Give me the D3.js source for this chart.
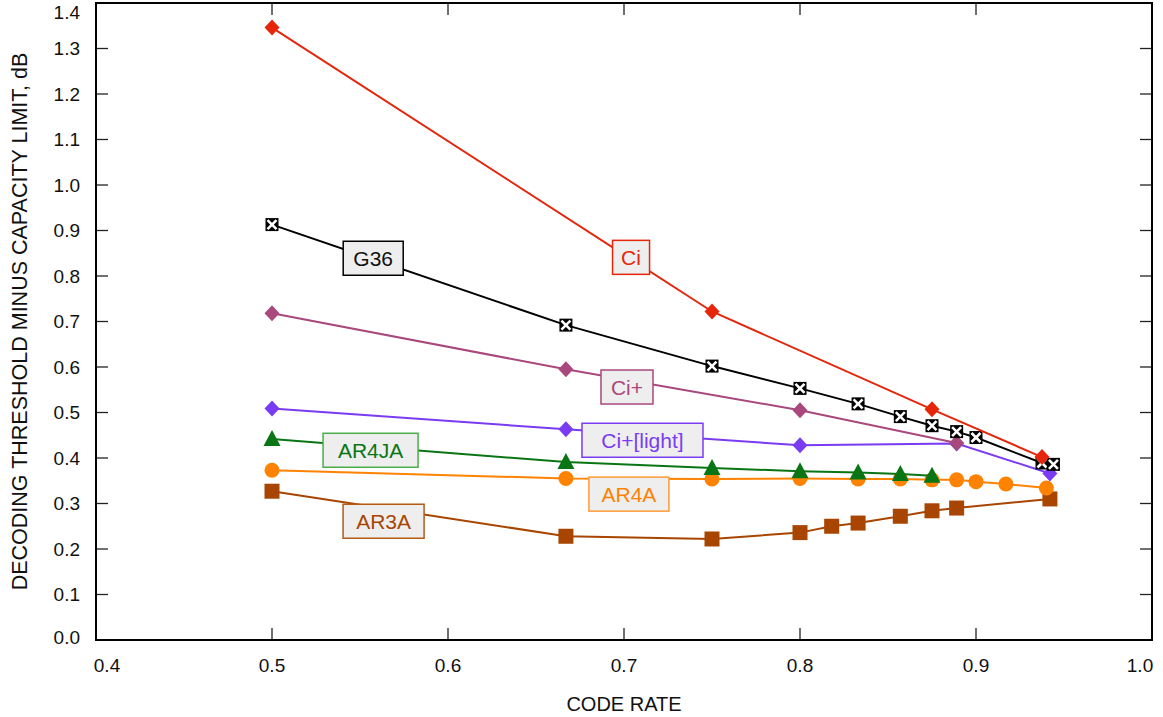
<!DOCTYPE html>
<html>
<head>
<meta charset="utf-8">
<script src="https://cdn.jsdelivr.net/npm/d3@7"></script>
<style>
  body { margin: 0; background: #fff; }
  text { font-family: "Liberation Sans", Arial, Helvetica, sans-serif; }
</style>
</head>
<body>
<div id="chart"></div>
<script>
// code rates and thresholds (dB above capacity)
const ciRate = [0.5, 0.75, 0.875, 0.9375];
const ciGap = [1.346, 0.722, 0.507, 0.402];

const g36Rate = [0.5, 0.667, 0.75, 0.8, 0.833, 0.857, 0.875, 0.889, 0.9, 0.9375, 0.944];
const g36Gap = [0.913, 0.692, 0.602, 0.553, 0.519, 0.491, 0.471, 0.458, 0.445, 0.389, 0.386];

const ciPlusRate = [0.5, 0.667, 0.8, 0.889];
const ciPlusGap = [0.718, 0.595, 0.505, 0.433];

const ciLightRate = [0.5, 0.667, 0.8, 0.889, 0.942];
const ciLightGap = [0.509, 0.463, 0.428, 0.432, 0.366];

const ar4jaRate = [0.5, 0.667, 0.75, 0.8, 0.833, 0.857, 0.875];
const ar4jaGap = [0.442, 0.391, 0.378, 0.371, 0.368, 0.365, 0.361];

const ar4aRate = [0.5, 0.667, 0.75, 0.8, 0.833, 0.857, 0.875, 0.889, 0.9, 0.917, 0.94];
const ar4aGap = [0.373, 0.355, 0.354, 0.355, 0.354, 0.354, 0.352, 0.352, 0.348, 0.343, 0.334];

const ar3aRate = [0.5, 0.667, 0.75, 0.8, 0.818, 0.833, 0.857, 0.875, 0.889, 0.942];
const ar3aGap = [0.327, 0.228, 0.222, 0.236, 0.250, 0.257, 0.272, 0.284, 0.290, 0.310];

const xTicks = [0.4, 0.5, 0.6, 0.7, 0.8, 0.9, 1.0];
const yTicks = d3.range(0, 15).map(i => i / 10);

const width = 1163, height = 717;
const margin = { left: 96, right: 11, top: 3, bottom: 77 };

const x = d3.scaleLinear().domain([0.4, 1.0]).range([margin.left, width - margin.right]);
const y = d3.scaleLinear().domain([0, 1.4]).range([height - margin.bottom, margin.top]);

// label box positions are in data units, box widths in px
const series = [
  { name: 'Ci', rate: ciRate, gap: ciGap, color: '#e5260b', border: '#e5260b', marker: 'diamond', lx: 0.704, ly: 0.841, bw: 37 },
  { name: 'G36', rate: g36Rate, gap: g36Gap, color: '#000000', border: '#000000', marker: 'xsquare', lx: 0.5575, ly: 0.839, bw: 60 },
  { name: 'Ci+', rate: ciPlusRate, gap: ciPlusGap, color: '#a8487c', border: '#a8487c', marker: 'diamond', lx: 0.7017, ly: 0.556, bw: 52 },
  { name: 'Ci+[light]', rate: ciLightRate, gap: ciLightGap, color: '#7a3cf2', border: '#7a3cf2', marker: 'diamond', lx: 0.7105, ly: 0.439, bw: 121 },
  { name: 'AR4JA', rate: ar4jaRate, gap: ar4jaGap, color: '#0a7514', border: '#4aad4a', marker: 'triangle', lx: 0.556, ly: 0.417, bw: 95 },
  { name: 'AR4A', rate: ar4aRate, gap: ar4aGap, color: '#ff8200', border: '#ff9a3a', marker: 'circle', lx: 0.7028, ly: 0.3206, bw: 80 },
  { name: 'AR3A', rate: ar3aRate, gap: ar3aGap, color: '#a84500', border: '#b45a14', marker: 'square', lx: 0.5634, ly: 0.261, bw: 81 }
];

const svg = d3.select('#chart').append('svg')
  .attr('width', width)
  .attr('height', height);

// ticks (inside, mirrored on all four sides)
const tickLen = 12;
const axes = svg.append('g').attr('stroke', '#222').attr('stroke-width', 1.3);
xTicks.slice(1, -1).forEach(t => {
  axes.append('line').attr('x1', x(t)).attr('x2', x(t)).attr('y1', y(0)).attr('y2', y(0) - tickLen);
  axes.append('line').attr('x1', x(t)).attr('x2', x(t)).attr('y1', y(1.4)).attr('y2', y(1.4) + tickLen);
});
yTicks.slice(1, -1).forEach(t => {
  axes.append('line').attr('x1', x(0.4)).attr('x2', x(0.4) + tickLen).attr('y1', y(t)).attr('y2', y(t));
  axes.append('line').attr('x1', x(1.0)).attr('x2', x(1.0) - tickLen).attr('y1', y(t)).attr('y2', y(t));
});

svg.append('rect')
  .attr('x', x(0.4)).attr('y', y(1.4))
  .attr('width', x(1.0) - x(0.4)).attr('height', y(0) - y(1.4))
  .attr('fill', 'none').attr('stroke', '#000').attr('stroke-width', 2);

// tick labels
svg.append('g').selectAll('text')
  .data(xTicks)
  .enter().append('text')
  .attr('x', (d, i) => x(d) + (i === 0 ? 11 : i === xTicks.length - 1 ? -12 : 0))
  .attr('y', y(0) + 32)
  .attr('text-anchor', 'middle')
  .attr('font-size', '19px')
  .attr('fill', '#111')
  .text(d => d.toFixed(1));

svg.append('g').selectAll('text')
  .data(yTicks)
  .enter().append('text')
  .attr('x', x(0.4) - 16)
  .attr('y', (d, i) => y(d) + 6.5 + (i === yTicks.length - 1 ? 9 : i === 0 ? -3 : 0))
  .attr('text-anchor', 'end')
  .attr('font-size', '19px')
  .attr('fill', '#111')
  .text(d => d.toFixed(1));

// axis titles
svg.append('text')
  .attr('x', (x(0.4) + x(1.0)) / 2)
  .attr('y', 711)
  .attr('text-anchor', 'middle')
  .attr('font-size', '20px')
  .attr('fill', '#111')
  .text('CODE RATE');

svg.append('text')
  .attr('transform', `translate(27, ${(y(0) + y(1.4)) / 2}) rotate(-90)`)
  .attr('text-anchor', 'middle')
  .attr('font-size', '21.5px')
  .attr('fill', '#111')
  .text('DECODING THRESHOLD MINUS CAPACITY LIMIT, dB');

const line = d3.line().x(d => x(d[0])).y(d => y(d[1]));

function drawMarker(g, kind, color) {
  if (kind === 'diamond') {
    g.append('path').attr('d', 'M0,-8 L7.5,0 L0,8 L-7.5,0 Z').attr('fill', color);
  } else if (kind === 'triangle') {
    g.append('path').attr('d', 'M0,-9 L8.5,7 L-8.5,7 Z').attr('fill', color);
  } else if (kind === 'circle') {
    g.append('circle').attr('r', 7.5).attr('fill', color);
  } else if (kind === 'square') {
    g.append('rect').attr('x', -7.5).attr('y', -7.5).attr('width', 15).attr('height', 15).attr('fill', color);
  } else if (kind === 'xsquare') {
    g.append('rect').attr('x', -6.5).attr('y', -6.5).attr('width', 13).attr('height', 13).attr('fill', '#000');
    g.append('path').attr('d', 'M-4.5,-4.5 L4.5,4.5 M4.5,-4.5 L-4.5,4.5').attr('stroke', '#fff').attr('stroke-width', 2.6);
  }
}

// draw from bottom series to top so the upper curves sit above
series.slice().reverse().forEach(s => {
  const pts = s.rate.map((r, i) => [r, s.gap[i]]);
  const g = svg.append('g');
  g.append('path')
    .attr('d', line(pts))
    .attr('fill', 'none')
    .attr('stroke', s.color)
    .attr('stroke-width', 2);
  pts.forEach(p => {
    const m = g.append('g').attr('transform', `translate(${x(p[0])},${y(p[1])})`);
    drawMarker(m, s.marker, s.color);
  });
});

// series labels in boxes
series.forEach(s => {
  const g = svg.append('g').attr('transform', `translate(${x(s.lx)},${y(s.ly)})`);
  g.append('rect')
    .attr('x', -s.bw / 2).attr('y', -17)
    .attr('width', s.bw).attr('height', 34)
    .attr('fill', '#eeeeee')
    .attr('stroke', s.border)
    .attr('stroke-width', 1.5);
  g.append('text')
    .attr('text-anchor', 'middle')
    .attr('y', 7.5)
    .attr('font-size', '21px')
    .attr('fill', s.color === '#000000' ? '#111' : s.color)
    .text(s.name);
});
</script>
</body>
</html>
